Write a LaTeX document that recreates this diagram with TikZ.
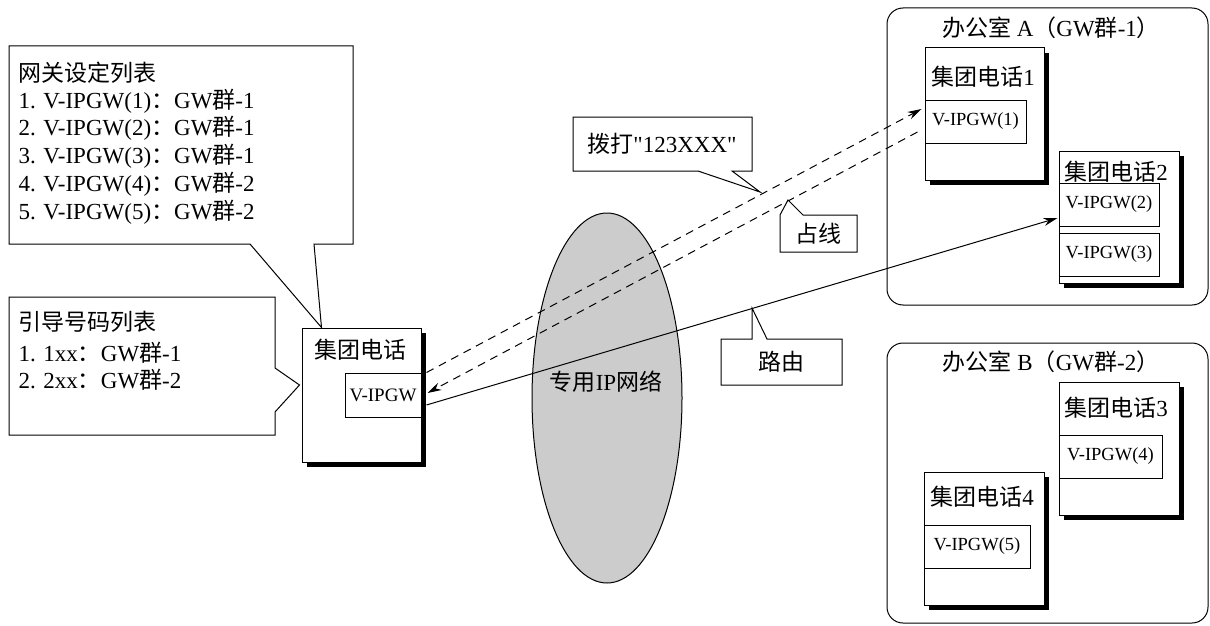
\documentclass[tikz,border=0pt]{standalone}
\usepackage{fontspec}
\setmainfont{Liberation Serif}
\newfontfamily\serifplain{Liberation Serif}
\newfontfamily\cjk{Noto Sans CJK SC}
\usetikzlibrary{shapes.geometric,shadows,arrows.meta,calc}
\newcommand\zh[1]{{\cjk #1}}
\begin{document}
\begin{tikzpicture}[x=1pt,y=-1pt,line width=1pt,
 txt/.style={inner sep=0,font=\fontsize{23}{27}\selectfont},
 lst/.style={txt,anchor=west},
 phone/.style={draw,fill=white,inner sep=0,drop shadow={shadow xshift=5pt,shadow yshift=-5pt,fill=black,opacity=1}},
 gwbox/.style={draw,fill=white,inner sep=0,font=\fontsize{18.5}{22}\selectfont},
 office/.style={draw,rounded corners=16pt,inner sep=0},
 callout/.style={draw,fill=white,line join=miter},
 arr/.style={-{Stealth[length=14pt,width=8pt]}},
 dsh/.style={arr,dash pattern=on 8pt off 6pt}]
\useasboundingbox[fill=white] (0,0) rectangle (1210,626);

% network cloud
\node[ellipse,draw,fill=gray!40,minimum width=150,minimum height=370,inner sep=0] (net) at (607,398) {};
\node[txt] (netl) at (606,382) {\zh{专用}IP\zh{网络}};

% local phone
\node[phone,minimum width=119,minimum height=134] (p0) at (361.5,395) {};
\node[txt] (p0l) at (360,350) {\zh{集团电话}};
\node[gwbox,minimum width=76,minimum height=44,font=\fontsize{19}{22}\selectfont] (g0) at (383,395) {V-IPGW};

% office A
\node[office,minimum width=321,minimum height=297] (offA) at (1047.5,156.5) {};
\node[txt] (offAl) at (1051,28) {\zh{办公室} A\zh{（}GW\zh{群}-1\zh{）}};
\node[phone,minimum width=119,minimum height=132] (p1) at (984.5,114) {};
\node[txt] (p1l) at (983,77) {\zh{集团电话}1};
\node[gwbox,minimum width=101,minimum height=43] (g1) at (975.5,121.5) {V-IPGW(1)};
\node[phone,minimum width=120,minimum height=132] (p2) at (1119,217) {};
\node[txt] (p2l) at (1116,172) {\zh{集团电话}2};
\node[gwbox,minimum width=100,minimum height=43] (g2) at (1109,204.5) {V-IPGW(2)};
\node[gwbox,minimum width=100,minimum height=43] (g3) at (1109,254.5) {V-IPGW(3)};

% office B
\node[office,minimum width=321,minimum height=280] (offB) at (1047.5,483) {};
\node[txt] (offBl) at (1051,362) {\zh{办公室} B\zh{（}GW\zh{群}-2\zh{）}};
\node[phone,minimum width=120,minimum height=133] (p3) at (1119,448.5) {};
\node[txt] (p3l) at (1116,408) {\zh{集团电话}3};
\node[gwbox,minimum width=103,minimum height=43] (g4) at (1110.5,456.5) {V-IPGW(4)};
\node[phone,minimum width=120,minimum height=133] (p4) at (984,538.5) {};
\node[txt] (p4l) at (982,497) {\zh{集团电话}4};
\node[gwbox,minimum width=106,minimum height=43] (g5) at (977,546.5) {V-IPGW(5)};

% connectors
\coordinate (s1) at ($(g0.north east)+(5,0)$);
\coordinate (e1) at ($(g1.west)+(-3,-12.5)$);
\coordinate (s2) at ($(g1.west)+(-7,10.5)$);
\coordinate (e2) at ($(g0.east)+(6,-2)$);
\coordinate (s3) at ($(g0.east)+(5,10)$);
\coordinate (e3) at ($(g2.west)+(-1,13.5)$);
\draw[dsh] (s1) -- (e1);
\draw[dsh] (s2) -- (e2);
\draw[arr] (s3) -- (e3);

% callouts
\draw[callout] (9,46) -- (353,46) -- (353,244) -- (314,244) -- ($(p0.north west)+(20,0)$) -- (250,244) -- (9,244) -- cycle;
\node[lst,font=\cjk\fontsize{23}{27}\selectfont] (t0) at (18,73) {网关设定列表};
\node[lst] (t1) at (18,101) {1. V-IPGW(1)\zh{：}GW\zh{群}-1};
\node[lst] (t2) at (18,128) {2. V-IPGW(2)\zh{：}GW\zh{群}-1};
\node[lst] (t3) at (18,156) {3. V-IPGW(3)\zh{：}GW\zh{群}-1};
\node[lst] (t4) at (18,184) {4. V-IPGW(4)\zh{：}GW\zh{群}-2};
\node[lst] (t5) at (18,212) {5. V-IPGW(5)\zh{：}GW\zh{群}-2};

\draw[callout] (9,297) -- (275,297) -- (275,368) -- ($(p0.west)+(-2,-10)$) -- (275,412) -- (275,435) -- (9,435) -- cycle;
\node[lst,font=\cjk\fontsize{23}{27}\selectfont] (u0) at (18,322) {引导号码列表};
\node[lst] (u1) at (18,353) {1. 1xx\zh{：}GW\zh{群}-1};
\node[lst] (u2) at (18,380) {2. 2xx\zh{：}GW\zh{群}-2};

\draw[callout] (573,117) -- (752,117) -- (752,171) -- (732,171) -- (760,192) -- (698,171) -- (573,171) -- cycle;
\node[txt] (c1) at (662,144) {\zh{拨打}{\serifplain "123XXX"}};

\draw[callout] (780,252) -- (780,215) -- (788,200) -- (803,215) -- (857,215) -- (857,252) -- cycle;
\node[txt] (c2) at (818,234) {\zh{占线}};

\draw[callout] (721,339) -- (752,339) -- (752,308) -- (767,339) -- (842,339) -- (842,385) -- (721,385) -- cycle;
\node[txt] (c3) at (781,362) {\zh{路由}};
\end{tikzpicture}
\end{document}
